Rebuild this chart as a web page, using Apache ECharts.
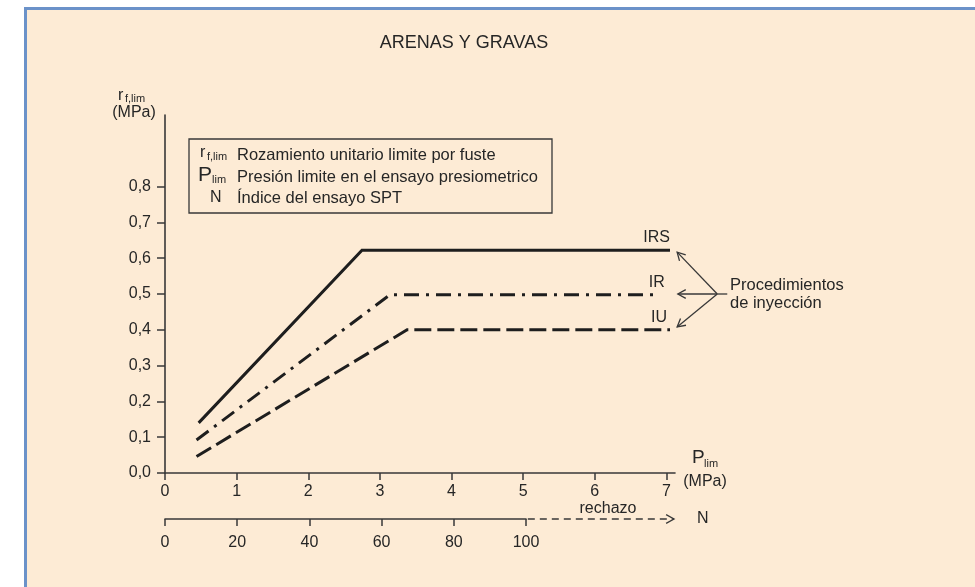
<!DOCTYPE html>
<html>
<head>
    <meta charset="utf-8">
    <title>Arenas y gravas</title>
    <style>
        html, body { margin: 0; padding: 0; background: #fff; overflow: hidden; }
        #panel {
            position: absolute; left: 24px; top: 7px; width: 980px; height: 600px;
            background: #fdebd5; border-left: 3px solid #6b92c9; border-top: 3px solid #6b92c9;
        }
        #main { position: absolute; left: 0; top: 0; width: 975px; height: 587px; }
    </style>
</head>
<body>
<div id="panel"></div>
<div id="main"></div>

<script src="https://cdn.jsdelivr.net/npm/echarts@6/dist/echarts.min.js"></script>
<script>
    // curvas (Plim en MPa, rf,lim en MPa)
    var irsX = [0.47, 2.75, 7.05];
    var irsY = [0.14, 0.622, 0.622];
    var irX = [0.44, 3.14, 6.88];
    var irY = [0.092, 0.498, 0.498];
    var iuX = [0.44, 3.38, 7.05];
    var iuY = [0.046, 0.40, 0.40];

    // ejes
    var pTicks = [0, 1, 2, 3, 4, 5, 6, 7];
    var rTicks = [0, 0.1, 0.2, 0.3, 0.4, 0.5, 0.6, 0.7, 0.8];
    var nTicks = [0, 20, 40, 60, 80, 100];

    var FONT = '"Liberation Sans", Arial, sans-serif';
    var INK = '#262626';
    var AXIS = '#383838';

    function zip(xs, ys) {
        var out = [];
        for (var i = 0; i < xs.length; i++) out.push([xs[i], ys[i]]);
        return out;
    }

    function curve(name, xs, ys, dash, width, off) {
        return {
            name: name,
            type: 'line',
            xAxisIndex: 0,
            yAxisIndex: 0,
            data: zip(xs, ys),
            symbol: 'none',
            showSymbol: false,
            silent: true,
            lineStyle: {color: '#1e1e1e', width: width, type: dash, cap: 'butt', join: 'miter'},
            endLabel: {
                show: true, formatter: name, align: 'right', verticalAlign: 'middle',
                distance: 0, offset: off, color: INK, fontSize: 16, fontFamily: FONT
            }
        };
    }

    var chart = echarts.init(document.getElementById('main'));

    var option = {
        animation: false,
        backgroundColor: 'transparent',
        grid: [
            {left: 165, top: 115, width: 510, height: 358, outerBoundsMode: 'none'},
            {left: 165, top: 518, width: 361, height: 1, outerBoundsMode: 'none'}
        ],
        xAxis: [{
            type: 'value', gridIndex: 0, min: 0, max: 7.12,
            axisLine: {show: true, lineStyle: {color: AXIS, width: 1.6}},
            axisTick: {show: true, length: 7, customValues: pTicks, lineStyle: {color: AXIS, width: 1.5}},
            axisLabel: {customValues: pTicks, margin: 11, color: INK, fontSize: 16, fontFamily: FONT},
            splitLine: {show: false}
        }, {
            type: 'value', gridIndex: 1, min: 0, max: 100, interval: 20,
            axisLine: {show: true, lineStyle: {color: AXIS, width: 1.6}},
            axisTick: {show: true, length: 7, customValues: nTicks, lineStyle: {color: AXIS, width: 1.5}},
            axisLabel: {customValues: nTicks, margin: 16, color: INK, fontSize: 16, fontFamily: FONT},
            splitLine: {show: false}
        }],
        yAxis: [{
            type: 'value', gridIndex: 0, min: 0, max: 1.0,
            axisLine: {show: true, lineStyle: {color: AXIS, width: 1.6}},
            axisTick: {show: true, length: 8, customValues: rTicks, lineStyle: {color: AXIS, width: 1.5}},
            axisLabel: {
                customValues: rTicks, margin: 14, color: INK, fontSize: 16, fontFamily: FONT,
                formatter: function (v) { return v.toFixed(1).replace('.', ','); }
            },
            splitLine: {show: false}
        }, {
            type: 'value', gridIndex: 1, min: 0, max: 1, show: false
        }],
        series: [
            curve('IRS', irsX, irsY, 'solid', 3, [0, -13]),
            curve('IR', irX, irY, [15, 7, 3, 7], 3, [7, -12]),
            curve('IU', iuX, iuY, [17, 6], 3, [-3, -12])
        ]
    };
    chart.setOption(option);

    // anotaciones
    function txt(x, y, s, size, align) {
        return {
            type: 'text', x: x, y: y, silent: true,
            style: {
                text: s, fill: INK, font: size + 'px ' + FONT,
                align: align || 'left', textAlign: align || 'left',
                verticalAlign: 'middle', textVerticalAlign: 'middle'
            }
        };
    }

    function seg(a, b, dash) {
        return {
            type: 'line', silent: true,
            shape: {x1: a[0], y1: a[1], x2: b[0], y2: b[1]},
            style: {stroke: AXIS, lineWidth: 1.3, lineDash: dash || null}
        };
    }

    function head(from, to) {
        var ang = Math.atan2(to[1] - from[1], to[0] - from[0]);
        var len = 9, spread = 0.5;
        return {
            type: 'polyline', silent: true,
            shape: {points: [
                [to[0] - len * Math.cos(ang - spread), to[1] - len * Math.sin(ang - spread)],
                to,
                [to[0] - len * Math.cos(ang + spread), to[1] - len * Math.sin(ang + spread)]
            ]},
            style: {stroke: AXIS, lineWidth: 1.3, fill: null}
        };
    }

    var px = function (v) { return chart.convertToPixel({gridIndex: 0}, v); };
    var pn = function (v) { return chart.convertToPixel({gridIndex: 1}, v); };

    var hub = px([7.71, 0.50]);
    var tips = [px([7.15, 0.617]), px([7.16, 0.50]), px([7.15, 0.408])];
    var nEnd = pn([141, 0]);
    var nStart = pn([100.5, 0]);

    var g = [
        txt(464, 43, 'ARENAS Y GRAVAS', 18, 'center'),
        // nombre eje y
        txt(118, 96, 'r', 16),
        txt(125, 99, 'f,lim', 11),
        txt(134, 113, '(MPa)', 16, 'center'),
        // nombre eje x
        txt(692, 458, 'P', 19),
        txt(704, 464, 'lim', 11),
        txt(705, 482, '(MPa)', 16, 'center'),
        // leyenda
        {
            type: 'rect', silent: true,
            shape: {x: 189, y: 139, width: 363, height: 74},
            style: {stroke: AXIS, lineWidth: 1.3, fill: null}
        },
        txt(200, 153, 'r', 16),
        txt(207, 157, 'f,lim', 11),
        txt(237, 155, 'Rozamiento unitario limite por fuste', 16.5),
        txt(198, 175, 'P', 21),
        txt(212, 180, 'lim', 11),
        txt(237, 177, 'Presión limite en el ensayo presiometrico', 16.5),
        txt(210, 198, 'N', 16),
        txt(237, 198, 'Índice del ensayo SPT', 16.5),
        // procedimientos
        txt(730, 285, 'Procedimientos', 16.5),
        txt(730, 303, 'de inyección', 16.5),
        seg(hub, [hub[0] + 10, hub[1]]),
        // eje N: rechazo
        seg(nStart, nEnd, [7, 5]),
        head(nStart, nEnd),
        txt(608, 509, 'rechazo', 16, 'center'),
        txt(697, 519, 'N', 16)
    ];
    for (var i = 0; i < tips.length; i++) {
        g.push(seg(hub, tips[i]));
        g.push(head(hub, tips[i]));
    }

    chart.setOption({graphic: g});
</script>
</body>
</html>
